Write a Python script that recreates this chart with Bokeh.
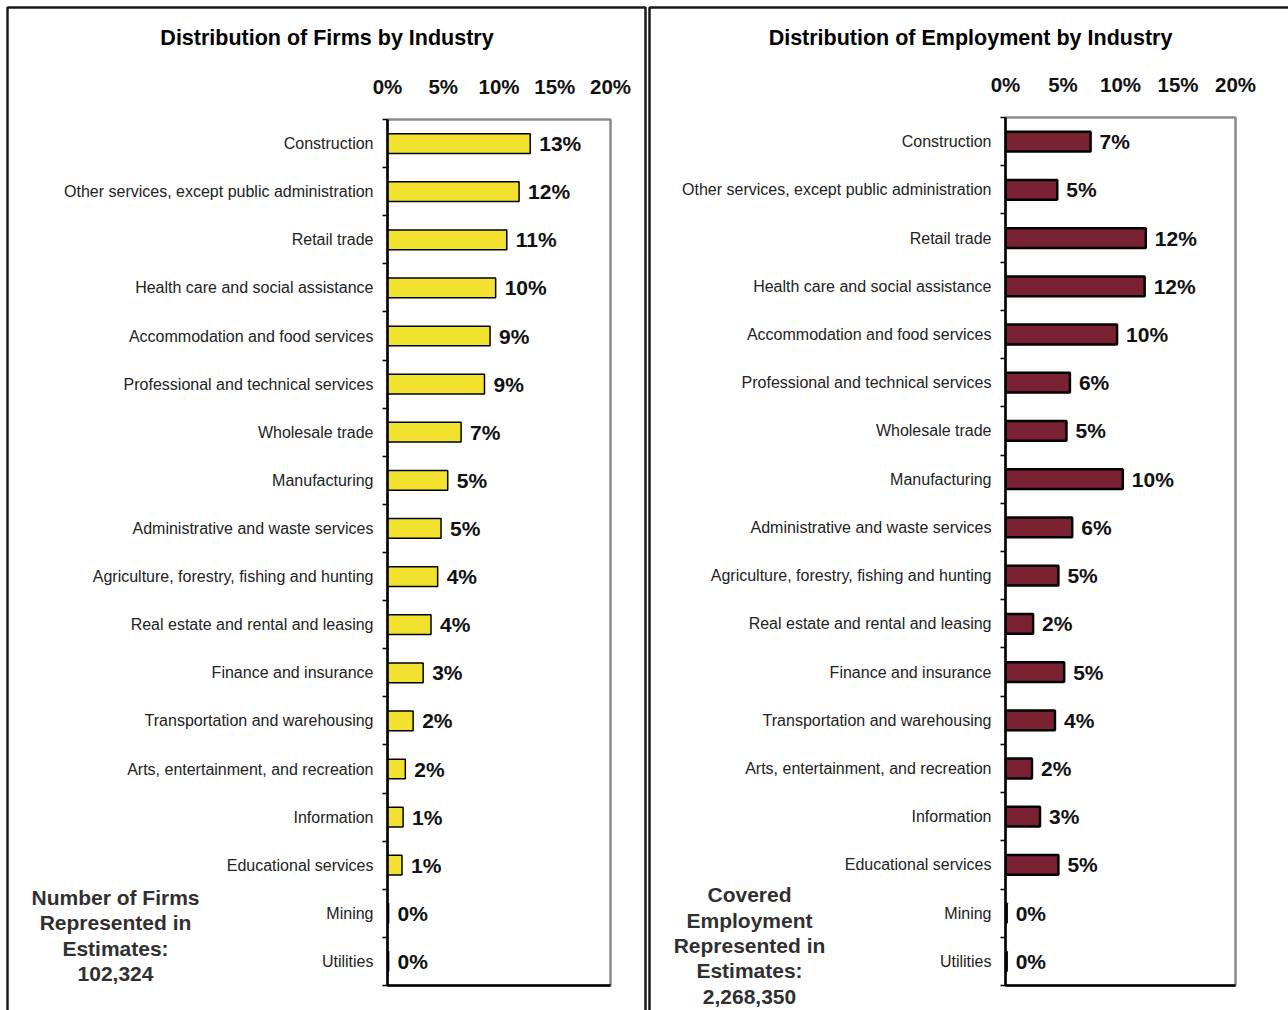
from bokeh.plotting import figure
from bokeh.models import (Range1d, FactorRange, LinearAxis, CategoricalAxis, FixedTicker,
                          PrintfTickFormatter, ColumnDataSource, GridBox)
from bokeh.embed import file_html
from bokeh.resources import INLINE
from bokeh.core.properties import value

industries = [
    "Construction",
    "Other services, except public administration",
    "Retail trade",
    "Health care and social assistance",
    "Accommodation and food services",
    "Professional and technical services",
    "Wholesale trade",
    "Manufacturing",
    "Administrative and waste services",
    "Agriculture, forestry, fishing and hunting",
    "Real estate and rental and leasing",
    "Finance and insurance",
    "Transportation and warehousing",
    "Arts, entertainment, and recreation",
    "Information",
    "Educational services",
    "Mining",
    "Utilities",
]

firms_pct = [12.8, 11.8, 10.7, 9.7, 9.2, 8.7, 6.6, 5.4, 4.8, 4.5, 3.9, 3.2, 2.3, 1.6, 1.4, 1.3, 0.1, 0.1]
firms_labels = ["13%", "12%", "11%", "10%", "9%", "9%", "7%", "5%", "5%", "4%", "4%", "3%",
                "2%", "2%", "1%", "1%", "0%", "0%"]

employment_pct = [7.4, 4.5, 12.2, 12.1, 9.7, 5.6, 5.3, 10.2, 5.8, 4.6, 2.4, 5.1, 4.3, 2.3, 3.0, 4.6, 0.1, 0.1]
employment_labels = ["7%", "5%", "12%", "12%", "10%", "6%", "5%", "10%", "6%", "5%", "2%", "5%",
                     "4%", "2%", "3%", "5%", "0%", "0%"]

pct_ticks = [0, 5, 10, 15, 20]

panel_titles = ["Distribution of Firms by Industry", "Distribution of Employment by Industry"]
panel_notes = ["Number of Firms\nRepresented in\nEstimates:\n102,324",
               "Covered\nEmployment\nRepresented in\nEstimates:\n2,268,350"]

FONT = "Liberation Sans"


def make_panel(values, labels, fill, line_w, width, fl, fr, ft):
    p = figure(width=width, height=1010,
               x_range=Range1d(0, 20), y_range=FactorRange(factors=industries[::-1]),
               output_backend="svg", toolbar_location=None,
               x_axis_location=None, y_axis_location=None,
               min_border_left=fl, min_border_right=fr, min_border_top=ft, min_border_bottom=25)
    p.frame_align = False
    p.grid.visible = False
    p.outline_line_color = "#8c8c8c"
    p.outline_line_width = 2.5
    p.background_fill_color = "white"
    p.border_fill_color = "white"

    top = LinearAxis(ticker=FixedTicker(ticks=pct_ticks),
                     formatter=PrintfTickFormatter(format="%d%%"),
                     axis_line_color=None, major_tick_line_color=None, minor_tick_line_color=None,
                     major_tick_out=0, major_tick_in=0, major_label_standoff=22,
                     major_label_text_font=FONT, major_label_text_font_style="bold",
                     major_label_text_font_size="20.5px", major_label_text_color="#111111")
    p.add_layout(top, "above")

    bottom = LinearAxis(ticker=FixedTicker(ticks=[]), axis_line_color="black", axis_line_width=2.5,
                        major_tick_line_color=None, minor_tick_line_color=None,
                        major_label_text_font_size="0px", major_label_text_color=None)
    p.add_layout(bottom, "below")

    # tick marks between categories (category boundaries in synthetic coordinates)
    tick_ax = LinearAxis(ticker=FixedTicker(ticks=list(range(len(industries) + 1))),
                         axis_line_color="black", axis_line_width=2.5,
                         major_tick_in=0, major_tick_out=5, major_tick_line_width=1.5,
                         minor_tick_line_color=None, major_label_text_font_size="0px",
                         major_label_text_color=None, major_label_standoff=0)
    p.add_layout(tick_ax, "left")

    cat_ax = CategoricalAxis(axis_line_color=None, major_tick_line_color=None,
                             minor_tick_line_color=None, major_label_standoff=3,
                             major_label_text_font=FONT, major_label_text_font_size="16px",
                             major_label_text_color="#222222")
    p.add_layout(cat_ax, "left")

    src = ColumnDataSource(dict(industry=industries, pct=values, label=labels))
    p.hbar(y="industry", left=0, right="pct", height=0.41, source=src,
           fill_color=fill, line_color="black", line_width=line_w)
    p.text(x="pct", y="industry", text="label", source=src, x_offset=9,
           text_baseline="middle", text_align="left", text_font=value(FONT),
           text_font_style="bold", text_font_size="21px", text_color="#111111")
    return p


left = make_panel(firms_pct, firms_labels, "#F2E12E", 1.5, 646, 387, 36, 119)
right = make_panel(employment_pct, employment_labels, "#7B2232", 2.5, 642, 359, 53, 117)

# transparent overlay (page pixel coordinates) for titles, notes and panel frames
ov = figure(width=1288, height=1010, x_range=Range1d(0, 1288), y_range=Range1d(1010, 0),
            output_backend="svg", toolbar_location=None, title=None,
            x_axis_location=None, y_axis_location=None, min_border=0)
ov.frame_align = False
ov.grid.visible = False
ov.outline_line_color = None
ov.background_fill_color = None
ov.border_fill_color = None

ov.quad(left=[7, 649], right=[645, 1300], top=[7, 7], bottom=[1030, 1030],
        fill_color=None, line_color="#1a1a1a", line_width=2.5)
ov.text(x=[326.5, 970], y=[37, 37], text=panel_titles, text_align="center",
        text_baseline="middle", text_font=value(FONT), text_font_style="bold",
        text_font_size="21.5px", text_color="black")
ov.text(x=[115, 749], y=[935, 945], text=panel_notes, text_align="center",
        text_baseline="middle", text_font=value(FONT), text_font_style="bold",
        text_font_size="21px", text_color="#303030", text_line_height=1.1)

layout = GridBox(children=[(left, 0, 0), (right, 0, 1), (ov, 0, 0, 1, 2)], spacing=0)
open("out.html", "w").write(file_html(layout, INLINE))
